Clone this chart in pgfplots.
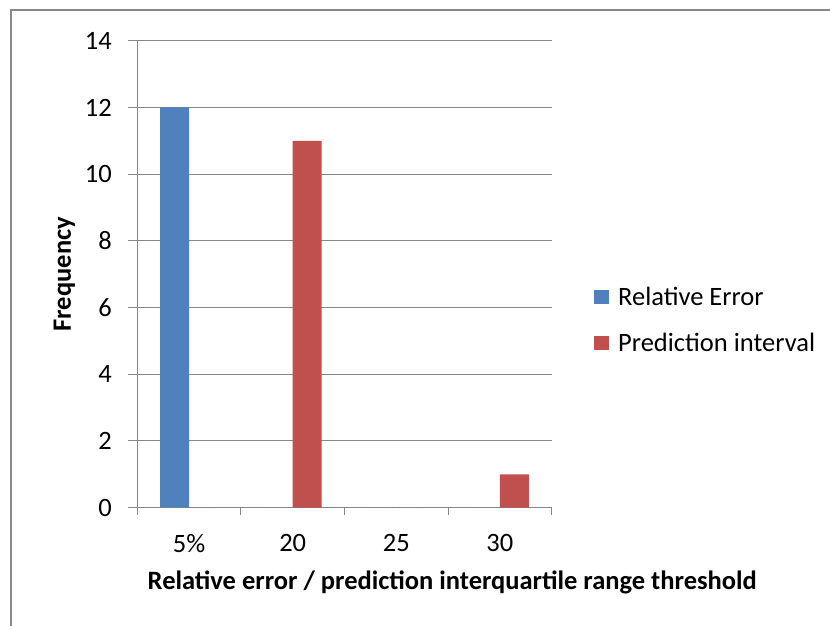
\documentclass[border=0pt]{standalone}
\usepackage{fontspec}
\setmainfont{Carlito}
\usepackage{pgfplots}
\pgfplotsset{compat=1.18}
\definecolor{reblue}{RGB}{79,129,189}
\definecolor{pired}{RGB}{192,80,77}
\definecolor{gridgray}{RGB}{134,134,134}
\definecolor{framegray}{RGB}{136,136,136}

\begin{document}
\begin{tikzpicture}
\useasboundingbox (0pt,0pt) rectangle (830pt,626pt);
\fill[white] (0pt,0pt) rectangle (830pt,626pt);
% outer chart frame
\draw[framegray, line width=2pt] (10.5pt,-5pt) -- (10.5pt,615.7pt) -- (840pt,615.7pt);
\begin{axis}[
  at={(137.3pt,118.3pt)}, anchor=south west,
  scale only axis, width=414.4pt, height=467pt,
  ybar=0pt, bar width=29pt,
  xmin=-0.5, xmax=3.5, ymin=0, ymax=14,
  xtick={0,1,2,3}, xticklabels={5\%,20,25,30},
  minor xtick={-0.5,0.5,1.5,2.5,3.5},
  major x tick style={draw=none},
  ytick={0,2,...,14},
  tick align=outside,
  minor tick length=7pt,
  major tick length=9pt,
  tick style={gridgray, line width=1pt},
  axis x line*=bottom, axis y line*=left,
  axis line style={gridgray, line width=1pt, -},
  ymajorgrids, grid style={gridgray, line width=1pt},
  tick label style={font=\fontsize{26.5}{30}\selectfont, black},
  /pgf/number format/assume math mode=true,
  xticklabel style={yshift=-14pt},
  yticklabel style={xshift=-13pt},
  every axis y label/.style={at={(axis description cs:0,0.5)}, xshift=-73pt, rotate=90, anchor=center},
  every axis x label/.style={at={(axis description cs:0,0)}, xshift=315pt, yshift=-75pt, anchor=center},
  xlabel={Relative error / prediction interquartile range threshold},
  ylabel={Frequency},
  label style={font=\fontsize{26.5}{30}\selectfont\bfseries},
  legend style={at={(rel axis cs:1.102,0.401)}, anchor=west, draw=none, fill=none,
    inner sep=0pt, font=\fontsize{26.5}{30}\selectfont, row sep=22pt,
    legend cell align=left},
  legend image code/.code={\fill[#1, draw=none] (0pt,-7pt) rectangle (15pt,7pt);
    \path (22pt,0pt);},
]
\addplot[fill=reblue, draw=none] coordinates {(0,12) (1,0) (2,0) (3,0)};
\addplot[fill=pired, draw=none] coordinates {(0,0) (1,11) (2,0) (3,1)};
\legend{Relative Error, Prediction interval}
\end{axis}
\end{tikzpicture}
\end{document}
